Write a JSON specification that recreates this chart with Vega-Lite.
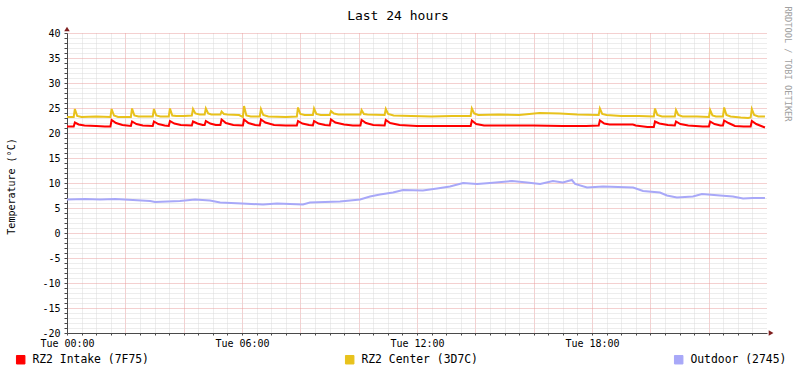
{
  "$schema": "https://vega.github.io/schema/vega-lite/v6.json",
  "width": 700,
  "height": 300,
  "autosize": {"type": "none"},
  "padding": {"left": 67, "top": 33, "right": 30, "bottom": 40},
  "background": "white",
  "config": {"view": {"stroke": null}, "font": "DejaVu Sans Mono"},
  "title": {"text": "Last 24 hours", "font": "DejaVu Sans Mono", "fontSize": 13, "fontWeight": "normal", "color": "black", "anchor": "middle", "frame": "group", "offset": -27, "baseline": "alphabetic", "dx": -19},
  "layer": [
    {
      "encoding": {
        "x": {"field": "h", "type": "quantitative", "scale": {"domain": [0, 24], "nice": false, "zero": false},
          "axis": {"orient": "bottom", "values": [0,0.5,1,1.5,2,2.5,3,3.5,4,4.5,5,5.5,6,6.5,7,7.5,8,8.5,9,9.5,10,10.5,11,11.5,12,12.5,13,13.5,14,14.5,15,15.5,16,16.5,17,17.5,18,18.5,19,19.5,20,20.5,21,21.5,22,22.5,23,23.5],
            "grid": true, "gridColor": {"condition": {"test": "datum.value % 2 === 0", "value": "#e8a0a0"}, "value": "#dadada"}, "gridDash": [1, 1], "gridWidth": 1,
            "domainColor": "#4a4a4a", "domainWidth": 1, "ticks": true, "tickSize": 2, "tickColor": "#4a4a4a", "tickWidth": 1,
            "labelExpr": "datum.value % 6 === 0 ? 'Tue ' + (datum.value < 10 ? '0' : '') + datum.value + ':00' : ''",
            "labelFont": "DejaVu Sans Mono", "labelFontSize": 10, "labelColor": "black", "labelPadding": 3, "labelOverlap": false, "labelFlush": false, "labelBound": false, "title": null}},
        "y": {"field": "t", "type": "quantitative", "scale": {"domain": [-20, 40], "nice": false, "zero": false},
          "axis": {"orient": "left", "values": [-20,-19,-18,-17,-16,-15,-14,-13,-12,-11,-10,-9,-8,-7,-6,-5,-4,-3,-2,-1,0,1,2,3,4,5,6,7,8,9,10,11,12,13,14,15,16,17,18,19,20,21,22,23,24,25,26,27,28,29,30,31,32,33,34,35,36,37,38,39,40],
            "grid": true, "gridColor": {"condition": {"test": "datum.value % 5 === 0", "value": "#e8a0a0"}, "value": "#dadada"}, "gridDash": [1, 1], "gridWidth": 1,
            "domainColor": "#4a4a4a", "domainWidth": 1, "ticks": true, "tickSize": 3, "tickColor": "#4a4a4a", "tickWidth": 1,
            "labelExpr": "datum.value % 5 === 0 ? '' + datum.value : ''",
            "labelFont": "DejaVu Sans Mono", "labelFontSize": 10, "labelColor": "black", "labelPadding": 4, "labelOverlap": false, "labelFlush": false, "labelBound": false,
            "title": "Temperature (°C)", "titleFont": "DejaVu Sans Mono", "titleFontSize": 10, "titleFontWeight": "normal", "titleColor": "black", "titleX": -56, "titleY": 153, "titleAngle": -90, "titleAlign": "center", "titleBaseline": "middle"}}
      },
      "layer": [
        {
          "data": {"values": [
            {"h":0,"t":21.3},{"h":0.23,"t":21.3},{"h":0.27,"t":22.1},{"h":0.4,"t":21.7},{"h":0.6,"t":21.5},{"h":1.0,"t":21.4},{"h":1.3,"t":21.3},
            {"h":1.49,"t":21.3},{"h":1.53,"t":22.6},{"h":1.68,"t":22.0},{"h":1.9,"t":21.6},{"h":2.19,"t":21.4},{"h":2.23,"t":22.3},{"h":2.38,"t":21.8},{"h":2.6,"t":21.5},
            {"h":2.94,"t":21.4},{"h":2.98,"t":22.3},{"h":3.13,"t":21.8},{"h":3.35,"t":21.5},{"h":3.49,"t":21.4},{"h":3.53,"t":22.4},{"h":3.68,"t":21.9},{"h":3.9,"t":21.6},
            {"h":4.28,"t":21.5},{"h":4.32,"t":22.3},{"h":4.47,"t":21.9},{"h":4.65,"t":21.6},{"h":4.72,"t":21.6},{"h":4.76,"t":22.4},{"h":4.91,"t":21.9},{"h":5.1,"t":21.6},
            {"h":5.26,"t":21.6},{"h":5.30,"t":22.7},{"h":5.45,"t":22.0},{"h":5.7,"t":21.6},{"h":6.03,"t":21.5},{"h":6.07,"t":22.7},{"h":6.22,"t":22.0},{"h":6.45,"t":21.6},
            {"h":6.61,"t":21.5},{"h":6.65,"t":22.7},{"h":6.8,"t":22.1},{"h":7.1,"t":21.6},{"h":7.5,"t":21.5},{"h":7.88,"t":21.5},{"h":7.92,"t":22.4},{"h":8.07,"t":21.9},{"h":8.3,"t":21.6},
            {"h":8.43,"t":21.5},{"h":8.47,"t":22.4},{"h":8.62,"t":21.9},{"h":8.85,"t":21.6},{"h":9.01,"t":21.5},{"h":9.05,"t":22.7},{"h":9.2,"t":22.1},{"h":9.5,"t":21.7},{"h":9.8,"t":21.5},
            {"h":10.06,"t":21.5},{"h":10.10,"t":22.6},{"h":10.25,"t":22.0},{"h":10.5,"t":21.6},{"h":10.89,"t":21.5},{"h":10.93,"t":22.6},{"h":11.08,"t":22.0},{"h":11.4,"t":21.6},
            {"h":12.0,"t":21.4},{"h":13.0,"t":21.4},{"h":13.84,"t":21.4},{"h":13.88,"t":22.5},{"h":14.03,"t":21.8},{"h":14.3,"t":21.5},{"h":15.0,"t":21.5},{"h":16.0,"t":21.5},{"h":17.0,"t":21.4},{"h":17.8,"t":21.4},
            {"h":18.23,"t":21.5},{"h":18.27,"t":22.5},{"h":18.42,"t":21.9},{"h":18.6,"t":21.7},{"h":19.4,"t":21.7},{"h":19.5,"t":21.5},{"h":19.9,"t":21.2},{"h":20.12,"t":21.2},
            {"h":20.16,"t":22.3},{"h":20.31,"t":21.9},{"h":20.6,"t":21.6},{"h":20.84,"t":21.5},{"h":20.88,"t":22.3},{"h":21.03,"t":21.8},{"h":21.3,"t":21.5},{"h":21.8,"t":21.3},
            {"h":22.01,"t":21.3},{"h":22.05,"t":22.3},{"h":22.2,"t":21.8},{"h":22.4,"t":21.5},{"h":22.49,"t":21.5},{"h":22.53,"t":22.5},{"h":22.68,"t":22.0},{"h":22.9,"t":21.4},{"h":23.2,"t":21.3},
            {"h":23.44,"t":21.3},{"h":23.48,"t":22.4},{"h":23.63,"t":21.8},{"h":23.8,"t":21.4},{"h":23.93,"t":21.1}
          ]},
          "mark": {"type": "line", "strokeWidth": 2},
          "encoding": {"color": {"datum": "RZ2 Intake (7F75)", "type": "nominal",
            "scale": {"domain": ["RZ2 Intake (7F75)", "RZ2 Center (3D7C)", "Outdoor (2745)"], "range": ["#ff0000", "#e8c21c", "#a8a8f8"]},
            "legend": {"orient": "none", "legendX": -52, "legendY": 321, "direction": "horizontal", "columns": 3, "columnPadding": 194, "title": null,
              "symbolType": "square", "symbolSize": 72, "labelFont": "DejaVu Sans Mono", "labelFontSize": 11.4, "labelColor": "black", "labelOffset": 6, "padding": 0, "labelLimit": 0,
              "encode": {"symbols": {"update": {"fill": {"scale": "color", "field": "value"}, "stroke": {"value": "black"}, "strokeWidth": {"value": 1}, "opacity": {"value": 1}}}}}}}
        },
        {
          "data": {"values": [
            {"h":0,"t":23.2},{"h":0.23,"t":23.2},{"h":0.27,"t":24.8},{"h":0.35,"t":23.4},{"h":0.5,"t":23.2},{"h":1.0,"t":23.3},
            {"h":1.49,"t":23.2},{"h":1.53,"t":24.8},{"h":1.61,"t":23.5},{"h":1.75,"t":23.2},{"h":2.19,"t":23.2},{"h":2.23,"t":24.9},{"h":2.31,"t":23.5},{"h":2.45,"t":23.3},
            {"h":2.94,"t":23.3},{"h":2.98,"t":24.8},{"h":3.06,"t":23.5},{"h":3.2,"t":23.3},{"h":3.49,"t":23.3},{"h":3.53,"t":24.9},{"h":3.61,"t":23.5},{"h":3.75,"t":23.4},{"h":4.0,"t":23.4},
            {"h":4.28,"t":23.5},{"h":4.32,"t":24.8},{"h":4.4,"t":23.9},{"h":4.55,"t":23.7},{"h":4.72,"t":23.7},{"h":4.76,"t":24.9},{"h":4.84,"t":23.9},{"h":4.95,"t":23.7},
            {"h":5.26,"t":23.7},{"h":5.30,"t":24.3},{"h":5.38,"t":23.8},{"h":5.5,"t":23.7},{"h":5.9,"t":23.6},{"h":6.03,"t":23.2},{"h":6.07,"t":25.4},{"h":6.15,"t":23.5},{"h":6.3,"t":23.3},
            {"h":6.61,"t":23.3},{"h":6.65,"t":24.8},{"h":6.73,"t":23.6},{"h":6.9,"t":23.3},{"h":7.5,"t":23.2},{"h":7.88,"t":23.3},{"h":7.92,"t":25.1},{"h":8.0,"t":23.8},{"h":8.15,"t":23.6},
            {"h":8.43,"t":23.6},{"h":8.47,"t":24.9},{"h":8.55,"t":23.8},{"h":8.7,"t":23.6},{"h":9.01,"t":23.6},{"h":9.05,"t":24.4},{"h":9.15,"t":23.9},{"h":9.3,"t":23.7},{"h":9.7,"t":23.7},
            {"h":10.06,"t":23.7},{"h":10.10,"t":24.6},{"h":10.18,"t":23.8},{"h":10.3,"t":23.7},{"h":10.89,"t":23.6},{"h":10.93,"t":24.8},{"h":11.01,"t":23.8},{"h":11.2,"t":23.5},
            {"h":11.8,"t":23.4},{"h":12.5,"t":23.3},{"h":13.2,"t":23.4},{"h":13.84,"t":23.4},{"h":13.88,"t":24.9},{"h":13.96,"t":23.9},{"h":14.1,"t":23.6},
            {"h":14.8,"t":23.7},{"h":15.5,"t":23.6},{"h":16.2,"t":24.0},{"h":16.9,"t":23.9},{"h":17.5,"t":23.7},{"h":18.23,"t":23.6},{"h":18.27,"t":24.9},{"h":18.35,"t":23.8},{"h":18.5,"t":23.6},
            {"h":19.0,"t":23.4},{"h":19.6,"t":23.4},{"h":20.12,"t":23.3},{"h":20.16,"t":24.9},{"h":20.24,"t":23.6},{"h":20.4,"t":23.3},{"h":20.84,"t":23.3},{"h":20.88,"t":24.6},{"h":20.96,"t":23.6},{"h":21.1,"t":23.3},
            {"h":21.6,"t":23.3},{"h":22.01,"t":23.2},{"h":22.05,"t":24.6},{"h":22.13,"t":23.5},{"h":22.25,"t":23.3},{"h":22.49,"t":23.3},{"h":22.53,"t":25.1},{"h":22.61,"t":23.6},{"h":22.75,"t":23.3},
            {"h":23.1,"t":23.1},{"h":23.35,"t":23.0},{"h":23.44,"t":23.1},{"h":23.48,"t":24.8},{"h":23.56,"t":23.6},{"h":23.7,"t":23.3},{"h":23.93,"t":23.3}
          ]},
          "mark": {"type": "line", "strokeWidth": 2},
          "encoding": {"color": {"datum": "RZ2 Center (3D7C)", "type": "nominal"}}
        },
        {
          "data": {"values": [
            {"h":0,"t":6.7},{"h":0.62,"t":6.8},{"h":1.13,"t":6.7},{"h":1.65,"t":6.8},{"h":2.26,"t":6.6},{"h":2.85,"t":6.4},{"h":3.02,"t":6.2},{"h":3.87,"t":6.4},
            {"h":4.39,"t":6.7},{"h":4.9,"t":6.5},{"h":5.25,"t":6.1},{"h":6.0,"t":5.9},{"h":6.72,"t":5.7},{"h":7.2,"t":5.9},{"h":7.65,"t":5.8},{"h":8.09,"t":5.7},
            {"h":8.33,"t":6.1},{"h":9.36,"t":6.3},{"h":10.05,"t":6.7},{"h":10.39,"t":7.3},{"h":10.73,"t":7.7},{"h":11.18,"t":8.1},{"h":11.52,"t":8.6},{"h":12.2,"t":8.5},
            {"h":12.69,"t":8.9},{"h":13.13,"t":9.3},{"h":13.58,"t":10.0},{"h":14.06,"t":9.8},{"h":14.5,"t":10.0},{"h":15.26,"t":10.4},{"h":15.77,"t":10.1},{"h":16.22,"t":9.8},
            {"h":16.66,"t":10.4},{"h":17.0,"t":10.1},{"h":17.31,"t":10.6},{"h":17.42,"t":9.8},{"h":17.83,"t":9.1},{"h":18.38,"t":9.3},{"h":19.41,"t":9.1},{"h":19.75,"t":8.4},
            {"h":20.33,"t":8.1},{"h":20.57,"t":7.5},{"h":20.91,"t":7.1},{"h":21.46,"t":7.3},{"h":21.77,"t":7.8},{"h":22.39,"t":7.5},{"h":22.83,"t":7.3},{"h":23.18,"t":6.9},
            {"h":23.52,"t":7.0},{"h":23.93,"t":7.0}
          ]},
          "mark": {"type": "line", "strokeWidth": 2},
          "encoding": {"color": {"datum": "Outdoor (2745)", "type": "nominal"}}
        }
      ]
    },
    {
      "data": {"values": [{}]},
      "mark": {"type": "point", "shape": "triangle-up", "filled": true, "size": 30, "color": "#7f1f1f", "opacity": 1},
      "encoding": {
        "x": {"datum": 0, "type": "quantitative", "scale": {"domain": [0, 24], "nice": false, "zero": false}, "axis": null},
        "y": {"datum": 40.8, "type": "quantitative", "scale": {"domain": [-20, 40], "nice": false, "zero": false},
          "axis": {"orient": "right", "grid": false, "labels": false, "ticks": false, "domain": false,
            "title": "RRDTOOL / TOBI OETIKER", "titleFont": "DejaVu Sans Mono", "titleFontSize": 8.7, "titleFontWeight": "normal", "titleColor": "#a0a0a0",
            "titleAngle": 90, "titleX": 20, "titleY": -27, "titleAlign": "left", "titleBaseline": "middle"}}
      }
    },
    {
      "data": {"values": [{}]},
      "mark": {"type": "point", "shape": "triangle-right", "filled": true, "size": 30, "color": "#7f1f1f", "opacity": 1},
      "encoding": {
        "x": {"datum": 24.14, "type": "quantitative", "scale": {"domain": [0, 24], "nice": false, "zero": false}, "axis": null},
        "y": {"datum": -20, "type": "quantitative", "scale": {"domain": [-20, 40], "nice": false, "zero": false}, "axis": null}
      }
    }
  ],
  "resolve": {"axis": {"x": "independent", "y": "independent"}}
}
